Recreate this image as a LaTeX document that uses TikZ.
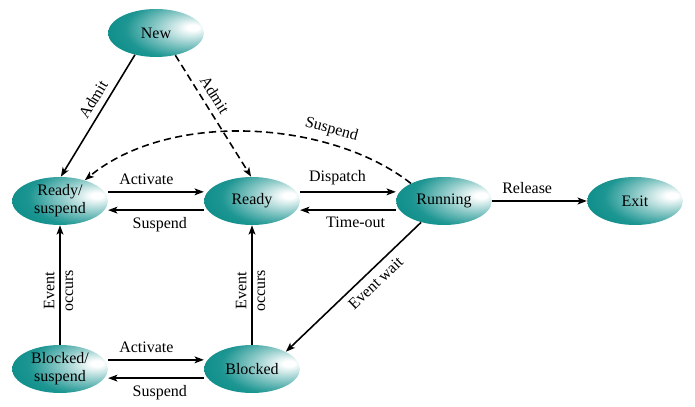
\documentclass[tikz,border=0pt]{standalone}
\usepackage{fontspec}
\setmainfont{Liberation Serif}
\usetikzlibrary{arrows.meta,shapes.geometric}
\definecolor{stateteal}{RGB}{0,136,132}
\pgfdeclareradialshading{tealball}{\pgfpoint{20bp}{6bp}}{color(0bp)=(white);color(3bp)=(white);color(15bp)=(stateteal!40!white);color(30bp)=(stateteal!88!white);color(45bp)=(stateteal);color(100bp)=(stateteal)}
\begin{document}
\begin{tikzpicture}[x=0.7pt,y=-0.7pt,font=\fontsize{11.2}{12.4}\selectfont,
	procstate/.style={ellipse,shade,shading=tealball,minimum width=67pt,minimum height=33.6pt,inner sep=0pt,align=center},
	>={Stealth[length=6.5pt,width=4.8pt,inset=1.6pt]}]
	\useasboundingbox (0,0) rectangle (695,407);
	\node[procstate] (new) at (156,33) {New};
	\node[procstate] (rsus) at (60,201) {Ready/\\suspend};
	\node[procstate] (ready) at (252,201) {Ready};
	\node[procstate] (run) at (444,201) {Running};
	\node[procstate] (exit) at (635,201) {Exit};
	\node[procstate] (bsus) at (60,369) {Blocked/\\suspend};
	\node[procstate] (blk) at (252,369) {Blocked};
	\draw[black,line width=1.1pt,->](new.226)--(rsus.88)node[pos=0.42,sloped,above=1pt]{Admit};
	\draw[black,line width=1.1pt,dash pattern=on 5pt off 3pt,->](new.311)--(ready.92)node[pos=0.38,sloped,above=1pt]{Admit};
	\draw[black,line width=1.1pt,dash pattern=on 5pt off 3pt,->](run.152) .. controls (330,120) and (170,110) .. (rsus.40)node[pos=0.28,sloped,above=1pt]{Suspend};
	\draw[black,line width=1.1pt,->]([yshift=6.4pt]rsus.east)--([yshift=6.4pt]ready.west)node[pos=0.4,above=1pt]{Activate};
	\draw[black,line width=1.1pt,->]([yshift=-6.4pt]ready.west)--([yshift=-6.4pt]rsus.east)node[pos=0.46,below=1pt]{Suspend};
	\draw[black,line width=1.1pt,->]([yshift=6.4pt]ready.east)--([yshift=6.4pt]run.west)node[pos=0.39,above=1pt]{Dispatch};
	\draw[black,line width=1.1pt,->]([yshift=-6.4pt]run.west)--([yshift=-6.4pt]ready.east)node[pos=0.42,below=1pt]{Time-out};
	\draw[black,line width=1.1pt,->](run)--(exit)node[pos=0.37,above=1pt]{Release};
	\draw[black,line width=1.1pt,->](run.223)--(blk.27)node[pos=0.4,sloped,below=1pt]{Event wait};
	\draw[black,line width=1.1pt,->](bsus)--(rsus)node[pos=0.45,rotate=90,anchor=south]{Event}node[pos=0.45,rotate=90,anchor=north]{occurs};
	\draw[black,line width=1.1pt,->](blk)--(ready)node[pos=0.45,rotate=90,anchor=south]{Event}node[pos=0.45,rotate=90,anchor=north]{occurs};
	\draw[black,line width=1.1pt,->]([yshift=6.4pt]bsus.east)--([yshift=6.4pt]blk.west)node[pos=0.4,above=1pt]{Activate};
	\draw[black,line width=1.1pt,->]([yshift=-6.4pt]blk.west)--([yshift=-6.4pt]bsus.east)node[pos=0.46,below=1pt]{Suspend};
\end{tikzpicture}
\end{document}
